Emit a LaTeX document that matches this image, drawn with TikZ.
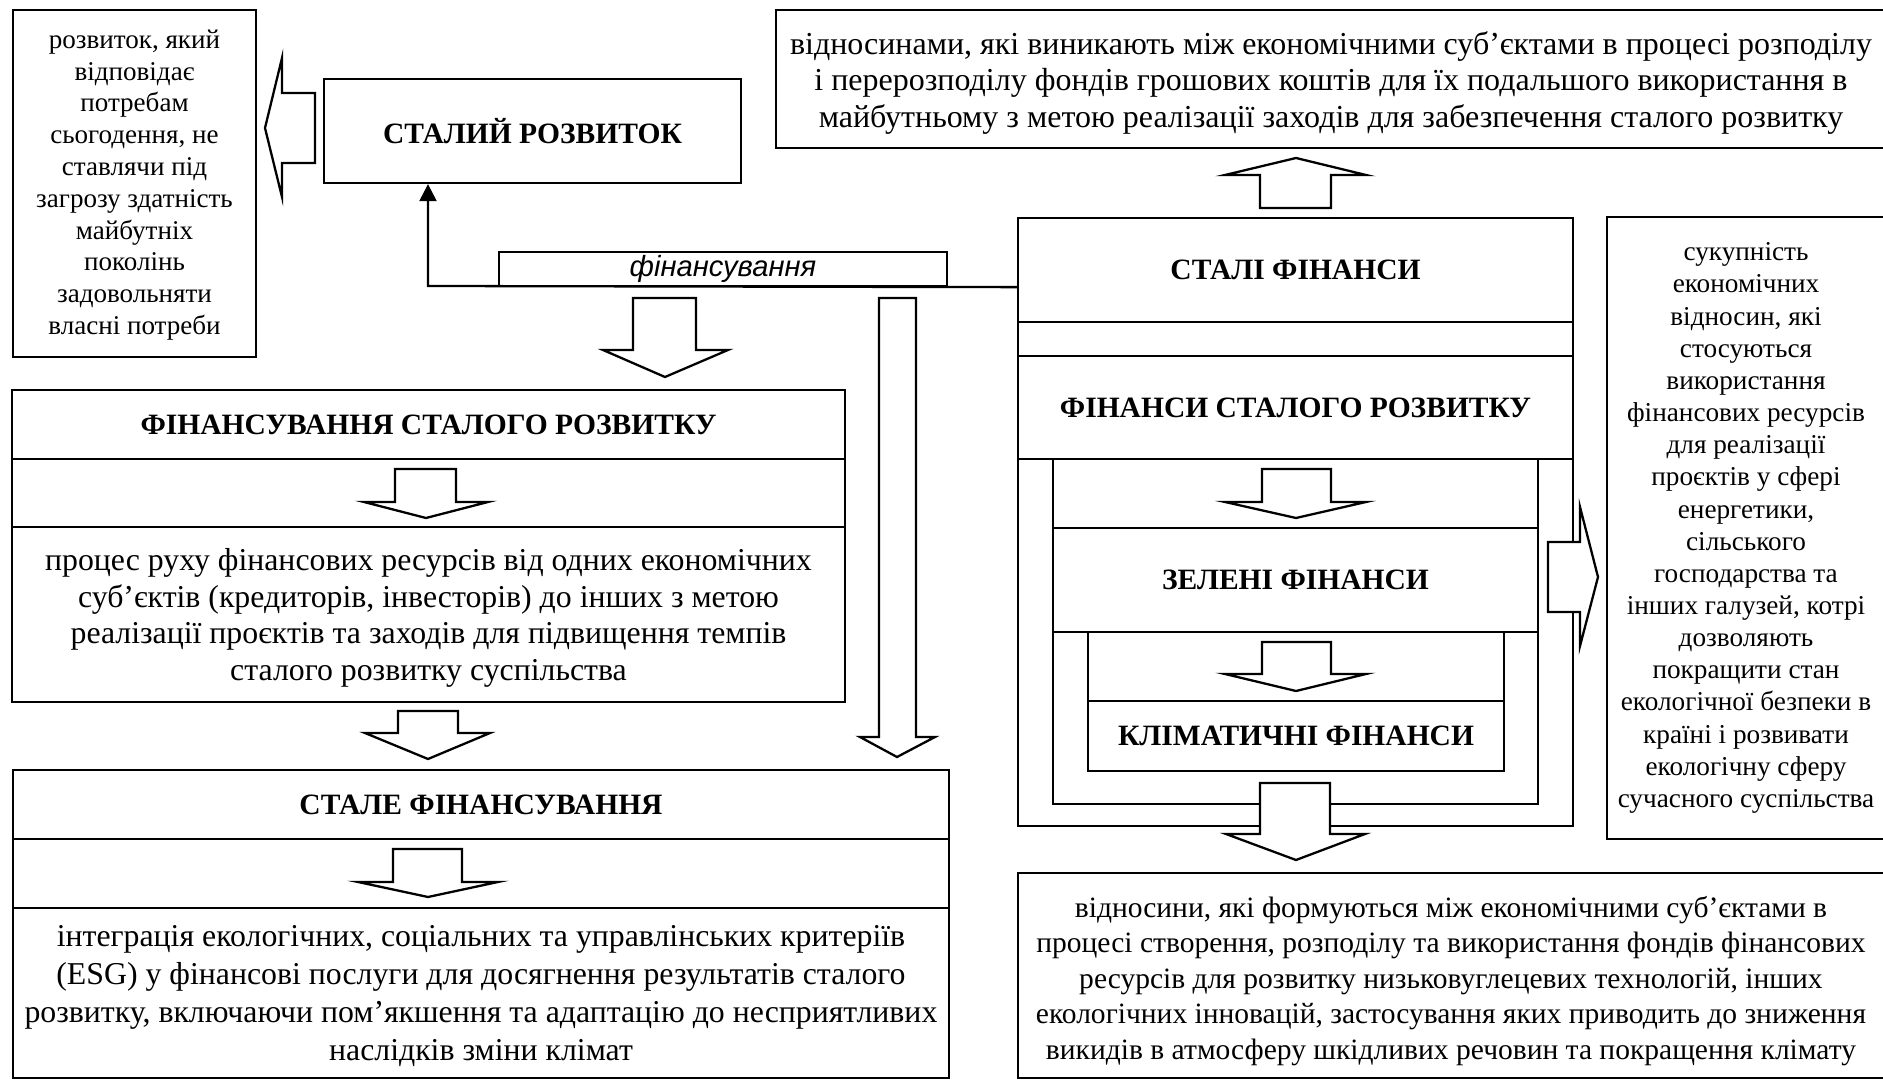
\documentclass[tikz,border=0pt]{standalone}
\usepackage{fontspec}
\setmainfont{Liberation Serif}
\newfontfamily\arialfont{Liberation Sans}
\usetikzlibrary{arrows.meta}
\usetikzlibrary{fit}

\begin{document}
\begin{tikzpicture}[x=0.2mm,y=-0.2mm,>={Triangle[length=3.4mm,width=3.4mm]},
	box/.style={draw,line width=1.3pt,inner sep=0pt},
	txt/.style={inner sep=0pt,align=center},
	ttl/.style={txt,font=\bfseries\fontsize{16.8}{20}\selectfont},
	blockarrow/.style={draw,fill=white,line width=1.3pt}]
\useasboundingbox (0,0) rectangle (1883,1080);
% left column
\node[box,fit={(13,10) (256,357)}] (defL) {};
\node[txt,font=\fontsize{15.4}{18.1}\selectfont] (defLtxt) at (134.5,185) {розвиток, який\\відповідає\\потребам\\сьогодення, не\\ставлячи під\\загрозу здатність\\майбутніх\\поколінь\\задовольняти\\власні потреби};
\node[box,fit={(324,79) (741,183)}] (sr) {};
\node[ttl] (srtxt) at (sr.center) {СТАЛИЙ РОЗВИТОК};
\node[box,fit={(12,390) (845,702)}] (fsrframe) {};
\node[box,fit={(12,390) (845,459)}] (fsr) {};
\node[ttl] (fsrtxt) at (fsr.center) {ФІНАНСУВАННЯ СТАЛОГО РОЗВИТКУ};
\node[box,fit={(12,527) (845,702)}] (fsrdef) {};
\node[txt,font=\fontsize{18.1}{20.9}\selectfont] (fsrdeftxt) at (428.5,618) {процес руху фінансових ресурсів від одних економічних\\суб’єктів (кредиторів, інвесторів) до інших з метою\\реалізації проєктів та заходів для підвищення темпів\\сталого розвитку суспільства};
\node[box,fit={(13,770) (949,1078)}] (sfframe) {};
\node[box,fit={(13,770) (949,839)}] (sfn) {};
\node[ttl] (sfntxt) at (sfn.center) {СТАЛЕ ФІНАНСУВАННЯ};
\node[box,fit={(13,908) (949,1078)}] (sfdef) {};
\node[txt,font=\fontsize{18.1}{21.5}\selectfont] (sfdeftxt) at (481,996) {інтеграція екологічних, соціальних та управлінських критеріїв\\(ESG) у фінансові послуги для досягнення результатів сталого\\розвитку, включаючи пом'якшення та адаптацію до несприятливих\\наслідків зміни клімат};
% right column
\node[box,fit={(776,10) (1886,148)}] (defT) {};
\node[txt,font=\fontsize{18.2}{20.9}\selectfont] (defTtxt) at (1331,83) {відносинами, які виникають між економічними суб’єктами в процесі розподілу\\і перерозподілу фондів грошових коштів для їх подальшого використання в\\майбутньому з метою реалізації заходів для забезпечення сталого розвитку};
\node[box,fit={(1018,218) (1573,826)}] (outer) {};
\node[box,fit={(1018,218) (1573,322)}] (sfin) {};
\node[ttl] (sfintxt) at (sfin.center) {СТАЛІ ФІНАНСИ};
\node[box,fit={(1018,356) (1573,459)}] (fsrR) {};
\node[ttl] (fsrRtxt) at (fsrR.center) {ФІНАНСИ СТАЛОГО РОЗВИТКУ};
\node[box,fit={(1053,459) (1538,804)}] (inner) {};
\node[box,fit={(1053,528) (1538,632)}] (green) {};
\node[ttl] (greentxt) at (green.center) {ЗЕЛЕНІ ФІНАНСИ};
\node[box,fit={(1088,632) (1504,771)}] (innermost) {};
\node[box,fit={(1088,701) (1504,771)}] (clim) {};
\node[ttl] (climtxt) at (clim.center) {КЛІМАТИЧНІ ФІНАНСИ};
\node[box,fit={(1607,217) (1886,839)}] (defR) {};
\node[txt,font=\fontsize{15.5}{18.3}\selectfont] (defRtxt) at (1746,528) {сукупність\\економічних\\відносин, які\\стосуються\\використання\\фінансових ресурсів\\для реалізації\\проєктів у сфері\\енергетики,\\сільського\\господарства та\\інших галузей, котрі\\дозволяють\\покращити стан\\екологічної безпеки  в\\країні і розвивати\\екологічну сферу\\сучасного суспільства};
\node[box,fit={(1018,873) (1886,1078)}] (defB) {};
\node[txt,font=\fontsize{16.8}{20.2}\selectfont] (defBtxt) at (1451,981) {відносини, які формуються між економічними суб’єктами в\\процесі створення, розподілу та використання фондів фінансових\\ресурсів для розвитку низьковуглецевих технологій, інших\\екологічних інновацій, застосування яких приводить до зниження\\викидів в атмосферу шкідливих речовин  та покращення клімату};
% financing link
\node[box,fit={(499,252) (947,286)}] (fin) {};
\node[txt,font=\arialfont\itshape\fontsize{16.6}{20}\selectfont] (fintxt) at (fin.center) {фінансування};
\coordinate (bend) at (428,286);
\draw[line width=1.3pt,->] (sfin.west |- fin.south) -- (bend) -- (bend |- sr.south);
% block arrows
\draw[blockarrow] (315,93) -- (282,93) -- (282,58) -- (265,128) -- (282,197) -- (282,163) -- (315,163) -- cycle;
\draw[blockarrow] (1260,208) -- (1260,175) -- (1225,175) -- (1296,158) -- (1366,175) -- (1331,175) -- (1331,208) -- cycle;
\draw[blockarrow] (633,298) -- (696,298) -- (696,350) -- (728,350) -- (665,377) -- (603,350) -- (633,350) -- cycle;
\draw[blockarrow] (879,298) -- (916,298) -- (916,737) -- (935,737) -- (897,757) -- (860,737) -- (879,737) -- cycle;
\draw[blockarrow] (395,469) -- (456,469) -- (456,502) -- (488,502) -- (426,518) -- (364,502) -- (395,502) -- cycle;
\draw[blockarrow] (398,711) -- (458,711) -- (458,733) -- (490,733) -- (428,759) -- (365,733) -- (398,733) -- cycle;
\draw[blockarrow] (393,849) -- (462,849) -- (462,882) -- (498,882) -- (428,897) -- (358,882) -- (393,882) -- cycle;
\foreach \yt/\yb/\yp in {469/502/518,642/674/691}
{
	\draw[blockarrow] (1262,\yt) -- (1331,\yt) -- (1331,\yb) -- (1366,\yb) -- (1296,\yp) -- (1225,\yb) -- (1262,\yb) -- cycle;
}
\draw[blockarrow] (1260,783) -- (1330,783) -- (1330,834) -- (1365,834) -- (1296,860) -- (1226,834) -- (1260,834) -- cycle;
\draw[blockarrow] (1548,542) -- (1580,542) -- (1580,507) -- (1598,577) -- (1580,646) -- (1580,612) -- (1548,612) -- cycle;
\end{tikzpicture}
\end{document}
